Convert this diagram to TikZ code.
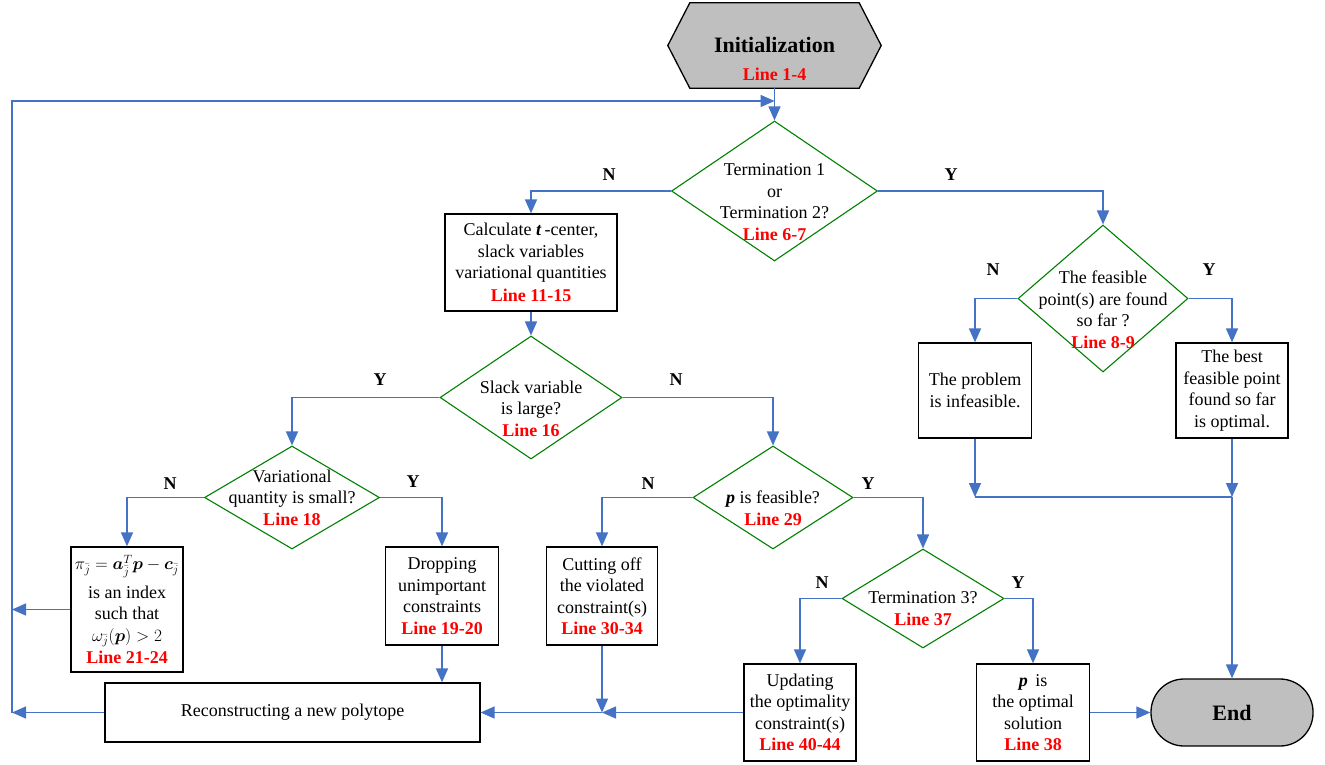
\documentclass[tikz,border=0pt]{standalone}
\usepackage{fontspec}
\setmainfont{Liberation Serif}
\usepackage{amsmath,bm}
\usetikzlibrary{shapes.geometric,arrows.meta}
\definecolor{flowblue}{RGB}{68,114,196}
\definecolor{decgreen}{RGB}{0,128,0}
\definecolor{termgray}{RGB}{191,191,191}
\newcommand{\linetag}[1]{{\color{red}\bfseries #1}}

\begin{document}
\begin{tikzpicture}[yscale=-1
,flow/.style={color=flowblue,line width=1.5pt,-{Triangle[length=14pt,width=12pt]}}
,plain/.style={color=flowblue,line width=1.5pt}
,procbox/.style={draw=black,line width=1.3pt,fill=white,align=center,inner sep=2pt,font=\fontsize{18}{21.5}\selectfont}
,decision/.style={diamond,draw=decgreen,line width=1.1pt,inner sep=0pt}
,dectext/.style={align=center,inner sep=0pt,font=\fontsize{18}{21.5}\selectfont}
,branch/.style={font=\fontsize{18}{21.5}\selectfont\bfseries}
,termtext/.style={align=center,inner sep=0pt,font=\fontsize{22}{26}\selectfont\bfseries}
,termfill/.style={draw=black,line width=1.3pt,fill=termgray}
]
\useasboundingbox (0pt,0pt) rectangle (1325pt,764pt);
\node[minimum width=213pt,minimum height=85pt,inner sep=0pt] (init) at (774.5pt,45.5pt) {};
\draw[termfill] (init.west) -- ([xshift=22pt]init.north west) -- ([xshift=-22pt]init.north east) -- (init.east) -- ([xshift=-22pt]init.south east) -- ([xshift=22pt]init.south west) -- cycle;
\node[termtext] (initt) at (774.5pt,59pt) {Initialization\\[2pt]\fontsize{18}{21.5}\selectfont\linetag{Line 1-4}};
\node[decision,minimum width=206pt,minimum height=140pt] (d1) at (774.5pt,191pt) {};
\node[dectext] (d1t) at (774.5pt,202pt) {Termination 1\\or\\Termination 2?\\\linetag{Line 6-7}};
\node[procbox,minimum width=172pt,minimum height=97pt] (b1) at (531pt,262.5pt) {Calculate \textbf{\textit{t}}\,-center,\\slack variables\\variational quantities\\[1pt]\linetag{Line 11-15}};
\node[decision,minimum width=182pt,minimum height=123pt] (d3) at (531pt,397.5pt) {};
\node[dectext] (d3t) at (531pt,408.5pt) {Slack variable\\is large?\\\linetag{Line 16}};
\node[decision,minimum width=175pt,minimum height=103pt] (d4) at (292pt,497.5pt) {};
\node[dectext] (d4t) at (292pt,497.5pt) {Variational\\quantity is small?\\\linetag{Line 18}};
\node[decision,minimum width=160pt,minimum height=103pt] (d5) at (773pt,497.5pt) {};
\node[dectext] (d5t) at (773pt,508pt) {\textbf{\textit{p}} is feasible?\\\linetag{Line 29}};
\node[decision,minimum width=162pt,minimum height=99pt] (d6) at (923pt,598.5pt) {};
\node[dectext] (d6t) at (923pt,608.5pt) {Termination 3?\\\linetag{Line 37}};
\node[decision,minimum width=170pt,minimum height=147pt] (d2) at (1103pt,298.5pt) {};
\node[dectext] (d2t) at (1103pt,309.5pt) {The feasible\\point(s) are found\\so far ?\\\linetag{Line 8-9}};
\node[procbox,minimum width=112pt,minimum height=125pt] (b2) at (127pt,609.5pt) {$\pi_{\bar{j}}=\bm{a}_{\bar{j}}^{T}\bm{p}-\bm{c}_{\bar{j}}$\\[7pt]is an index\\such that\\$\omega_{\bar{j}}(\bm{p})>2$\\[1pt]\linetag{Line 21-24}};
\node[procbox,minimum width=113pt,minimum height=98pt] (b3) at (442pt,596pt) {Dropping\\unimportant\\constraints\\\linetag{Line 19-20}};
\node[procbox,minimum width=375pt,minimum height=59pt] (b4) at (292.5pt,712.5pt) {Reconstructing a new polytope};
\node[procbox,minimum width=111pt,minimum height=98pt] (b5) at (602pt,596pt) {Cutting off\\the violated\\constraint(s)\\\linetag{Line 30-34}};
\node[procbox,minimum width=112pt,minimum height=97pt] (b6) at (800pt,712.5pt) {Updating\\the optimality\\constraint(s)\\\linetag{Line 40-44}};
\node[procbox,minimum width=113pt,minimum height=97pt] (b7) at (1033pt,712.5pt) {\textbf{\textit{p}}\, is\\the optimal\\solution\\\linetag{Line 38}};
\node[procbox,minimum width=113pt,minimum height=95pt] (b8) at (975pt,390.5pt) {The problem\\is infeasible.};
\node[procbox,minimum width=112pt,minimum height=95pt] (b9) at (1232pt,390.5pt) {The best\\feasible point\\found so far\\is optimal.};
\node[termfill,termtext,minimum width=162pt,minimum height=67pt,rounded corners=33pt] (end) at (1232pt,712.5pt) {End};
\node[branch] (n1) at (609pt,175pt) {N};
\node[branch] (y1) at (951pt,175pt) {Y};
\node[branch] (y3) at (380pt,380pt) {Y};
\node[branch] (n3) at (676pt,380pt) {N};
\node[branch] (n4) at (170pt,484pt) {N};
\node[branch] (y4) at (413pt,482pt) {Y};
\node[branch] (n5) at (648pt,484pt) {N};
\node[branch] (y5) at (868pt,484pt) {Y};
\node[branch] (n6) at (822pt,583pt) {N};
\node[branch] (y6) at (1018pt,583pt) {Y};
\node[branch] (n2) at (993pt,270pt) {N};
\node[branch] (y2) at (1209pt,270pt) {Y};
\coordinate (lb) at (12pt,712.5pt);
\coordinate (lt) at (12pt,101pt);
\coordinate (jn) at (602pt,712.5pt);
\coordinate (jl) at (975pt,497pt);
\coordinate (jr) at (1232pt,497pt);
\draw[flow] (init.south) -- (d1.north);
\draw[flow] (lb) -- (lt) -- (lt -| init.south);
\draw[flow] (d1.west) -| (b1.north);
\draw[flow] (d1.east) -| (d2.north);
\draw[flow] (b1.south) -- (d3.north);
\draw[flow] (d3.west) -| (d4.north);
\draw[flow] (d3.east) -| (d5.north);
\draw[flow] (d4.west) -| (b2.north);
\draw[flow] (d4.east) -| (b3.north);
\draw[flow] (d5.west) -| (b5.north);
\draw[flow] (d5.east) -| (d6.north);
\draw[flow] (d6.west) -| (b6.north);
\draw[flow] (d6.east) -| (b7.north);
\draw[flow] (d2.west) -| (b8.north);
\draw[flow] (d2.east) -| (b9.north);
\draw[flow] (b2.west) -- (b2.west -| lb);
\draw[flow] (b4.west) -- (lb);
\draw[flow] (b3.south) -- (b3.south |- b4.north);
\draw[flow] (b5.south) -- (jn);
\draw[flow] (b6.west) -- (jn);
\draw[flow] (jn) -- (b4.east);
\draw[flow] (b7.east) -- (end.west);
\draw[flow] (b8.south) -- (jl);
\draw[plain] (jl) -- (jr);
\draw[flow] (b9.south) -- (jr);
\draw[flow] (jr) -- (end.north);
\end{tikzpicture}
\end{document}
